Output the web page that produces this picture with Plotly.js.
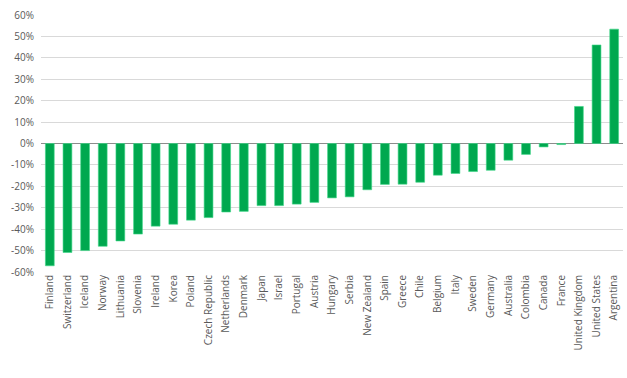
<!DOCTYPE html>
<html><head><meta charset="utf-8">
<script src="https://cdn.plot.ly/plotly-3.0.1.min.js"></script>
<style>html,body{margin:0;padding:0;background:#fff;}#chart{width:627px;height:378px;}</style>
</head><body><div id="chart"></div>
<script>
const countries = ["Finland","Switzerland","Iceland","Norway","Lithuania","Slovenia","Ireland","Korea","Poland","Czech Republic","Netherlands","Denmark","Japan","Israel","Portugal","Austria","Hungary","Serbia","New Zealand","Spain","Greece","Chile","Belgium","Italy","Sweden","Germany","Australia","Colombia","Canada","France","United Kingdom","United States","Argentina"];
const changePct = [-57.1,-50.9,-50.0,-48.0,-45.5,-42.3,-38.6,-37.7,-35.8,-34.6,-32.0,-31.7,-29.0,-29.0,-28.3,-27.5,-25.4,-24.9,-21.6,-19.1,-19.0,-18.1,-14.8,-14.0,-13.1,-12.5,-7.8,-5.1,-1.6,-0.5,17.3,46.0,53.4];
const yTicks = [-60,-50,-40,-30,-20,-10,0,10,20,30,40,50,60];
const yTickText = yTicks.map(v => v + "%");

Plotly.newPlot("chart", [{
  type: "bar",
  x: countries,
  y: changePct,
  marker: {color: "#00A84F", line: {color: "#3FD98A", width: 0.6}},
  width: 0.5,
  hoverinfo: "none"
}], {
  width: 627, height: 378,
  margin: {l: 41, r: 4, t: 15, b: 106},
  paper_bgcolor: "#fff", plot_bgcolor: "#fff",
  font: {family: "Open Sans, Liberation Sans, sans-serif", size: 10, color: "#595959"},
  showlegend: false,
  bargap: 0.5,
  xaxis: {
    type: "category", tickangle: -90, showgrid: false, zeroline: false,
    showline: false, ticks: "", tickfont: {size: 10, color: "#595959"},
    automargin: false
  },
  yaxis: {
    range: [-60, 60], tickvals: yTicks, ticktext: yTickText,
    showgrid: true, gridcolor: "#D9D9D9", gridwidth: 1,
    zeroline: true, zerolinecolor: "#8C8C8C", zerolinewidth: 1,
    showline: false, ticks: "", ticklabelstandoff: 6,
    tickfont: {size: 10, color: "#595959"}, automargin: false
  }
}, {staticPlot: true});
</script></body></html>
